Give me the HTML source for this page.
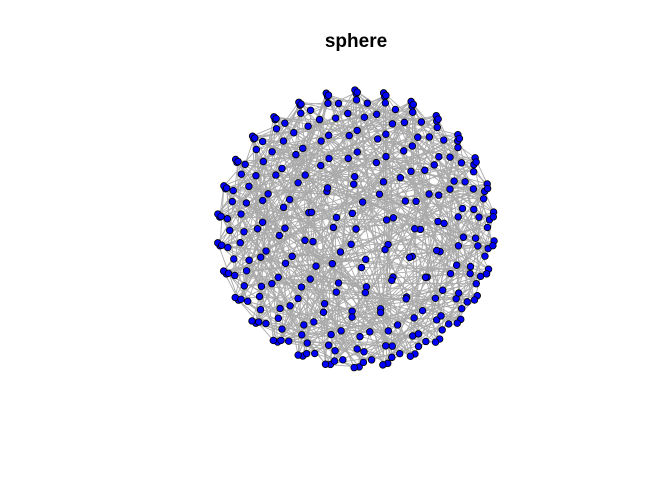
<!DOCTYPE html>
<html><head><meta charset="utf-8"><style>
html,body{margin:0;padding:0;background:#fff}
svg{display:block}
</style></head><body>
<svg id="chart" width="672" height="480" viewBox="0 0 672 480" xmlns="http://www.w3.org/2000/svg">
<rect width="672" height="480" fill="#fff"/>
<text x="356" y="47" text-anchor="middle" font-family="Liberation Sans, sans-serif" font-weight="bold" font-size="19">sphere</text>
<g id="edges"></g>
<g id="nodes"></g>
</svg>
<script>
const nodeCount = 300;
const edgeList = "3 151 7 188 12 140 15 201 19 99 22 160 27 133 30 210 33 145 38 171 41 120 44 189 48 155 52 110 55 176 59 142 62 205 66 130 69 168 73 118 77 192 80 149 84 125 87 214 91 137 95 181 98 156 102 127 105 199 109 143 113 166 116 131 120 208 123 152 127 179 131 160 134 211 138 148 141 185 145 200 148 172 152 221 155 190 159 230 162 175 166 240 170 183 173 235 177 197 180 225 184 245 187 206 191 260 194 218 198 250 201 232 205 270 209 242 212 255 216 280 219 238 223 265 226 248 230 290 233 258 237 275 240 262 244 295 248 268 251 285 255 272 258 298 262 282 265 292 269 150 273 140 276 160 280 120 283 135 287 145 290 110 294 170 297 130 2 160 6 145 10 175 14 130 18 190 23 155 26 120 31 165 35 140 39 185 43 150 47 125 51 170 54 138 58 195 63 148 67 115 71 180 75 158 79 128 83 200 86 162 90 135 94 178 97 147 101 210 106 165 110 139 114 187 118 153 121 220 125 170 129 146 132 195 136 161 139 228 143 182 147 157 150 215 154 178 158 236 161 196 165 223 169 189 172 246 176 208 179 233 183 256 186 217 190 244 193 266 197 227 200 252 204 276 207 238 211 262 215 286 218 249 222 272 225 296 229 258 232 284 236 154 239 146 243 171 247 133 250 158 254 139 257 167 261 126 264 149 268 112 271 176 275 141 279 163 282 122 286 152 289 108 293 137 296 159 299 144 1 140 5 168 9 122 13 196 17 150 21 134 25 182 29 158 34 117 37 203 42 163 46 139 50 188 53 147 57 212 61 173 65 128 68 219 72 160 76 143 81 226 85 184 89 153 92 231 96 174 100 198 103 237 107 166 111 141 115 209 119 186 122 244 126 164 130 222 133 157 137 251 140 192 144 213 149 171 153 259 156 201 160 239 163 177 167 267 171 216 174 247 178 188 181 274 185 227 188 254 192 204 195 281 199 235 202 263 206 214 210 288 213 243 217 271 220 156 224 174 228 144 231 186 235 161 238 131 242 169 245 151 249 119 253 183 256 137 260 172 263 114 267 166 270 142 274 129 277 191 281 155 284 117 288 178 291 147 295 123 298 162 4 125 8 180 11 147 16 205 20 170 24 113 28 194 32 152 36 220 40 176 45 135 49 210 56 162 60 228 64 186 70 143 74 235 78 196 82 157 88 245 93 205 99 166 104 250 108 217 112 172 117 260 124 227 128 182 135 270 142 239 146 190 151 280 157 247 164 203 168 289 175 256 182 212 189 293 196 264 203 222 208 297 214 138 221 165 227 150 234 179 241 132 246 158 252 120 259 187 266 144 272 174 278 127 285 163 292 139 299 181 0 290 14 275 28 260 42 245 56 230 70 215 84 200 98 185 112 170 126 155 140 141 154 126 168 111 182 96 196 81 210 66 224 51 238 36 252 21 266 6 280 11 294 26 9 289 23 274 37 259 51 244 65 229 79 214 93 199 107 184 121 169 135 154 149 139 163 124 177 109 191 94 205 79 219 64 233 49 247 34 261 19 275 4";
const extraEdgeList = "100 151 101 154 102 157 103 160 104 163 105 166 106 169 107 172 108 175 109 178 110 181 111 184 112 187 113 190 114 193 115 196 116 199 117 202 118 205 119 208 120 211 121 214 122 217 123 220 124 152 125 155 126 158 127 161 128 164 129 167 130 170 131 173 132 176 133 179 134 182 135 185 136 188 137 191 138 194 139 197 140 200 141 203 142 206 143 209 144 212 145 215 146 218 147 221 148 153 149 156 150 159 80 162 81 165 82 168 83 171 84 174 85 177 86 180 87 183 88 186 89 189 90 192 91 195 92 198 93 201 94 204 95 207 96 210 97 213 98 216 99 219 60 150 61 153 62 156 63 159 64 162 65 165 66 168 67 171 68 174 69 177 70 180 71 183 72 186 73 189 74 192 75 195 76 198 77 201 78 204 79 207 100 131 102 134 104 137 106 140 108 143 110 146 112 149 114 152 116 155 118 158 120 161 122 164 124 167 126 170 128 173 130 176 132 179 134 182 136 185 138 188 140 191 142 194 144 197 146 200 148 203 150 206 152 209 154 212 156 215 158 218 160 221 162 224 164 227 166 230 168 233 170 236 172 239 174 242 176 245 178 248 180 251 182 254 184 257 186 260 188 263 190 266 192 270 194 273 196 276 198 279 103 233 107 237 111 241 115 245 119 249 123 253 127 257 131 261 135 265 139 269 143 273 147 277 151 281 155 285 159 289 163 293 167 297 171 60 175 64 179 68 183 72 187 76 191 80 195 84 199 88 203 92 207 96 211 100 215 104 219 108 223 112 227 116 231 120 235 124 239 128 243 132 247 136 251 140 255 144 259 148 263 152 267 156 271 160 275 164 279 168 283 172 287 176 291 180 295 184 10 188 14 192 18 196 22 200 26 204 30 208 34 212 38 216 42 220 46 224 50 228 54 232 58";
function sphereLayout(n){
  const pts=[];let fi=0;
  for(let i=0;i<n;i++){
    const h=-1+2*i/(n-1);const r=Math.acos(h);
    if(i>0&&i<n-1){fi=fi+3.6/Math.sqrt(n*(1-h*h));fi=fi%(2*Math.PI);}else fi=0;
    pts.push([Math.cos(fi)*Math.sin(r),Math.sin(fi)*Math.sin(r)]);
  }
  return pts;
}
const cx=356,cy=229,rx=139,ry=139;
const xScale=v=>cx+v*rx, yScale=v=>cy-v*ry;
const pos=sphereLayout(nodeCount);
const NS="http://www.w3.org/2000/svg";
const eg=document.getElementById('edges'),ng=document.getElementById('nodes');
const nums=(edgeList+" "+extraEdgeList).trim().split(/\s+/).map(Number);
for(let k=0;k+1<nums.length;k+=2){
  const a=pos[nums[k]%nodeCount],b=pos[nums[k+1]%nodeCount];
  const l=document.createElementNS(NS,'line');
  l.setAttribute('x1',xScale(a[0]));l.setAttribute('y1',yScale(a[1]));
  l.setAttribute('x2',xScale(b[0]));l.setAttribute('y2',yScale(b[1]));
  l.setAttribute('stroke','#aaaaaa');l.setAttribute('stroke-width','0.9');
  
  
  eg.appendChild(l);
}
pos.forEach(p=>{
  const c=document.createElementNS(NS,'circle');
  c.setAttribute('cx',xScale(p[0]));c.setAttribute('cy',yScale(p[1]));c.setAttribute('r','3.3');
  c.setAttribute('fill','#0000ff');c.setAttribute('stroke','#000');c.setAttribute('stroke-width','0.8');
  
  
  ng.appendChild(c);
});
</script>
</body></html>
